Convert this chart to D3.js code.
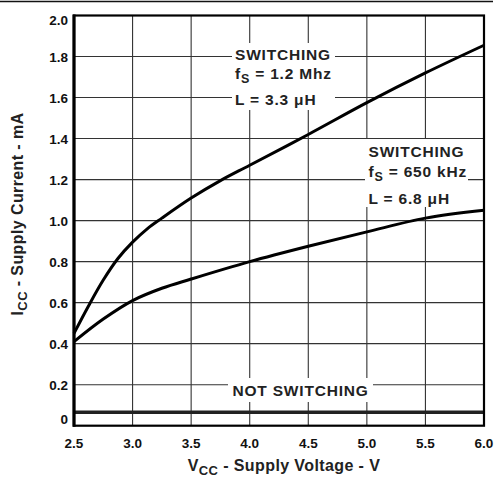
<!DOCTYPE html>
<html>
<head>
<meta charset="utf-8">
<script src="https://cdn.jsdelivr.net/npm/d3@7"></script>
<style>
  body { margin: 0; background: #fff; }
  svg { display: block; font-family: "Liberation Sans", Arial, sans-serif; font-weight: bold; }
</style>
</head>
<body>
<div id="chart"></div>
<script>
// tick values
var xTicks = [2.5, 3.0, 3.5, 4.0, 4.5, 5.0, 5.5, 6.0];
var yTicks = [0, 0.2, 0.4, 0.6, 0.8, 1.0, 1.2, 1.4, 1.6, 1.8, 2.0];
var yTickLabels = ["0", "0.2", "0.4", "0.6", "0.8", "1.0", "1.2", "1.4", "1.6", "1.8", "2.0"];

// switching, fs = 1.2 MHz, L = 3.3 uH
var vcc12 = [2.5, 2.625, 2.75, 2.875, 3.0, 3.125, 3.25, 3.5, 3.75, 4.0, 4.5, 5.0, 5.5, 6.0];
var icc12 = [0.45, 0.585, 0.71, 0.815, 0.895, 0.96, 1.012, 1.11, 1.195, 1.27, 1.42, 1.575, 1.72, 1.855];

// switching, fs = 650 kHz, L = 6.8 uH
var vcc650 = [2.5, 2.75, 3.0, 3.25, 3.5, 4.0, 4.5, 5.0, 5.5, 6.0];
var icc650 = [0.41, 0.52, 0.61, 0.67, 0.715, 0.80, 0.875, 0.945, 1.012, 1.05];

// not switching
var vccOff = [2.5, 6.0];
var iccOff = [0.065, 0.065];

function drawChart() {
  var margin = {top: 15.5, left: 74},
      width = 410,
      height = 410.2;

  var svg = d3.select("#chart").append("svg")
      .attr("width", 497)
      .attr("height", 479);

  // linha no topo da página
  svg.append("line")
      .attr("x1", 0).attr("x2", 493)
      .attr("y1", 1.5).attr("y2", 1.5)
      .attr("stroke", "#111").attr("stroke-width", 1.6);

  var g = svg.append("g")
      .attr("transform", "translate(" + margin.left + "," + margin.top + ")");

  var x = d3.scaleLinear().domain([2.5, 6.0]).range([0, width]);
  var y = d3.scaleLinear().domain([0, 2.0]).range([height, 0]);

  // grid
  g.append("g").selectAll("line")
    .data(xTicks.slice(1, -1))
    .enter().append("line")
      .attr("x1", function(d) { return x(d); })
      .attr("x2", function(d) { return x(d); })
      .attr("y1", 0).attr("y2", height)
      .attr("stroke", "#333").attr("stroke-width", 1.1);

  g.append("g").selectAll("line")
    .data(yTicks.slice(1, -1))
    .enter().append("line")
      .attr("x1", 0).attr("x2", width)
      .attr("y1", function(d) { return y(d); })
      .attr("y2", function(d) { return y(d); })
      .attr("stroke", "#333").attr("stroke-width", 1.1);

  // tick labels
  g.append("g").selectAll("text")
    .data(xTicks)
    .enter().append("text")
      .attr("x", function(d) { return x(d); })
      .attr("y", height + 22.5)
      .attr("text-anchor", "middle")
      .attr("font-size", 13.5)
      .attr("fill", "#111")
      .text(function(d) { return d3.format(".1f")(d); });

  g.append("g").selectAll("text")
    .data(yTicks)
    .enter().append("text")
      .attr("x", -6)
      .attr("y", function(d) {
        if (d === 0) return y(d) - 1.5;
        if (d === 2.0) return y(d) + 9.5;
        return y(d) + 5;
      })
      .attr("text-anchor", "end")
      .attr("font-size", 13.5)
      .attr("fill", "#111")
      .text(function(d, i) { return yTickLabels[i]; });

  // caixas brancas atrás das anotações
  var boxes = [
    {x: 232, y: 43, w: 103, h: 67},
    {x: 365, y: 139, w: 103, h: 68},
    {x: 228, y: 378, w: 145, h: 24}
  ];
  svg.append("g").selectAll("rect")
    .data(boxes)
    .enter().append("rect")
      .attr("x", function(d) { return d.x; })
      .attr("y", function(d) { return d.y; })
      .attr("width", function(d) { return d.w; })
      .attr("height", function(d) { return d.h; })
      .attr("fill", "#fff");

  // curves
  var line = d3.line()
      .x(function(d) { return x(d[0]); })
      .y(function(d) { return y(d[1]); })
      .curve(d3.curveCatmullRom.alpha(0.5));

  g.append("path")
      .datum(d3.zip(vccOff, iccOff))
      .attr("d", line)
      .attr("fill", "none").attr("stroke", "#222").attr("stroke-width", 3.5);

  g.append("path")
      .datum(d3.zip(vcc650, icc650))
      .attr("d", line)
      .attr("fill", "none").attr("stroke", "#000").attr("stroke-width", 3);

  g.append("path")
      .datum(d3.zip(vcc12, icc12))
      .attr("d", line)
      .attr("fill", "none").attr("stroke", "#000").attr("stroke-width", 3);

  // moldura
  g.append("rect")
      .attr("x", 0).attr("y", 0)
      .attr("width", width).attr("height", height)
      .attr("fill", "none").attr("stroke", "#000").attr("stroke-width", 2.2);
  g.append("line")
      .attr("x1", 0).attr("x2", 0).attr("y1", -1).attr("y2", height + 1)
      .attr("stroke", "#000").attr("stroke-width", 3.2);

  // anotações
  function annot(tx, lines) {
    lines.forEach(function(l) {
      var t = svg.append("text")
          .attr("x", tx).attr("y", l.y)
          .attr("font-size", 15.5)
          .attr("letter-spacing", 0.8)
          .attr("fill", "#222");
      l.parts.forEach(function(p) {
        var s = t.append("tspan").text(p.t);
        if (p.sub) s.attr("font-size", 12.5).attr("dy", 4);
        if (p.up) s.attr("dy", -4);
      });
    });
  }

  annot(235, [
    {y: 60, parts: [{t: "SWITCHING"}]},
    {y: 79, parts: [{t: "f"}, {t: "S", sub: true}, {t: " = 1.2 Mhz", up: true}]},
    {y: 105, parts: [{t: "L = 3.3 \u03bcH"}]}
  ]);
  annot(368.5, [
    {y: 157, parts: [{t: "SWITCHING"}]},
    {y: 177, parts: [{t: "f"}, {t: "S", sub: true}, {t: " = 650 kHz", up: true}]},
    {y: 204, parts: [{t: "L = 6.8 \u03bcH"}]}
  ]);
  annot(232.5, [
    {y: 396, parts: [{t: "NOT SWITCHING"}]}
  ]);

  // títulos dos eixos
  var xt = svg.append("text")
      .attr("x", 284).attr("y", 471)
      .attr("text-anchor", "middle")
      .attr("font-size", 16)
      .attr("letter-spacing", 0.4)
      .attr("fill", "#222");
  xt.append("tspan").text("V");
  xt.append("tspan").text("CC").attr("font-size", 13).attr("dy", 4);
  xt.append("tspan").text(" - Supply Voltage - V").attr("dy", -4);

  var yt = svg.append("text")
      .attr("transform", "translate(23,214) rotate(-90)")
      .attr("text-anchor", "middle")
      .attr("font-size", 16)
      .attr("letter-spacing", 0.4)
      .attr("fill", "#222");
  yt.append("tspan").text("I");
  yt.append("tspan").text("CC").attr("font-size", 13).attr("dy", 4);
  yt.append("tspan").text(" - Supply Current - mA").attr("dy", -4);
}

document.addEventListener("DOMContentLoaded", function() {
  drawChart();
});
</script>
</body>
</html>
